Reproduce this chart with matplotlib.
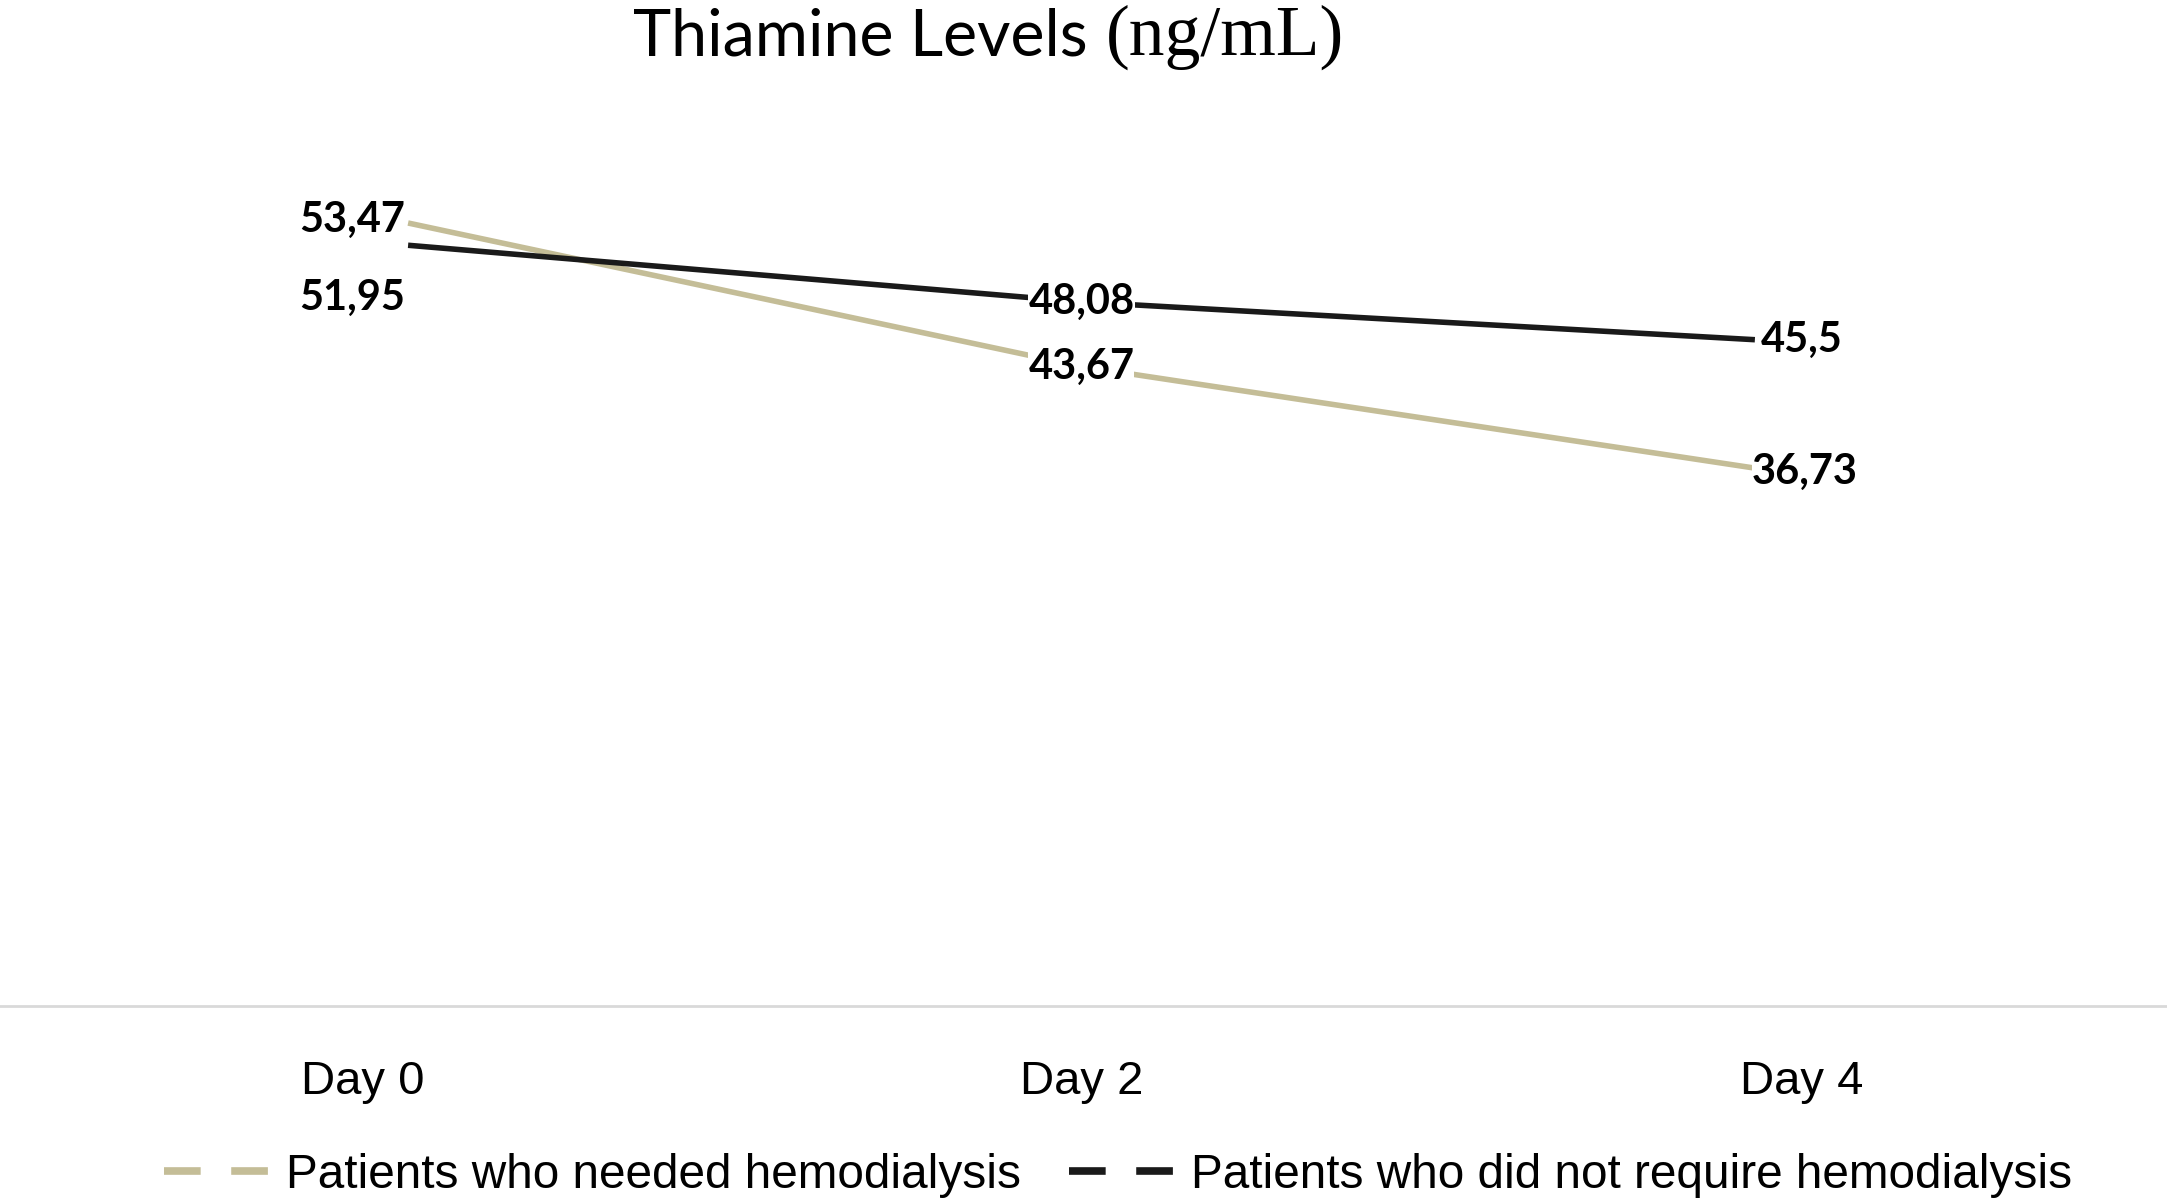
import matplotlib.pyplot as plt
from matplotlib.lines import Line2D

# данные
days = ['Day 0', 'Day 2', 'Day 4']
x_pos = [0, 1, 2]
tick_pos = [-0.067, 1.0, 2.07]
needed = [53.47, 43.67, 36.73]
not_required = [51.95, 48.08, 45.5]
needed_lbl = ['53,47', '43,67', '36,73']
not_required_lbl = ['51,95', '48,08', '45,5']
series_names = ['Patients who needed hemodialysis',
                'Patients who did not require hemodialysis']

tan = '#C4BD97'
dark = '#1A1A1A'

fig = plt.figure(figsize=(21.67, 12.03), dpi=100)
ax = fig.add_axes([0, 0.1638, 1, 0.8362])

ax.plot(x_pos, needed, color=tan, lw=4, solid_capstyle='butt', zorder=2)
ax.plot(x_pos, not_required, color=dark, lw=4, solid_capstyle='butt', zorder=3)

ax.set_xlim(-0.606, 2.612)
ax.set_ylim(0, 68.7)

# подписи значений
lbl_font = dict(family='Lato', weight='bold', fontsize=30, color='black')
box = dict(facecolor='white', edgecolor='none', pad=0)
needed_off = [(-2, 2, 'right'), (0, 0, 'center'), (-2, -3, 'left')]
not_req_off = [(-2, -38, 'right'), (0, 0, 'center'), (4, 0, 'left')]
for x, v, t, (dx, dy, ha) in zip(x_pos, needed, needed_lbl, needed_off):
    ax.annotate(t, (x, v), xytext=(dx, dy), textcoords='offset points',
                ha=ha, va='center', bbox=box, zorder=5, **lbl_font)
for x, v, t, (dx, dy, ha) in zip(x_pos, not_required, not_required_lbl, not_req_off):
    ax.annotate(t, (x, v), xytext=(dx, dy), textcoords='offset points',
                ha=ha, va='center', bbox=box, zorder=5, **lbl_font)

# оси
for s in ['top', 'left', 'right']:
    ax.spines[s].set_visible(False)
ax.spines['bottom'].set_color('#D9D9D9')
ax.spines['bottom'].set_linewidth(2)
ax.set_yticks([])
ax.set_xticks(tick_pos)
ax.set_xticklabels(days, family='Liberation Sans', fontsize=34)
ax.tick_params(axis='x', length=0, pad=39)

# заголовок
fig.text(633 / 2167, 1 - 55 / 1203, 'Thiamine Levels', family='Lato',
         fontsize=46.5, ha='left', va='baseline')
fig.text(1106 / 2167, 1 - 55 / 1203, '(ng/mL)', family='Liberation Serif',
         fontsize=51.5, ha='left', va='baseline')

# легенда
handles = [Line2D([], [], color=tan, lw=5.5, linestyle=(0, (4.8, 4.0)), dash_capstyle='butt'),
           Line2D([], [], color=dark, lw=5.5, linestyle=(0, (4.8, 4.0)), dash_capstyle='butt')]
fig.legend(handles, series_names, loc='center', bbox_to_anchor=(0.516, 1 - 1175 / 1203),
           ncol=2, frameon=False, prop={'family': 'Liberation Sans', 'size': 34.4},
           handlelength=2.25, handletextpad=0.3, columnspacing=1.0, borderpad=0)

plt.savefig('out.png', dpi=100)
